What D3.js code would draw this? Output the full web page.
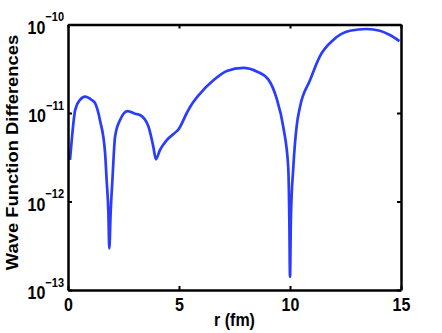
<!DOCTYPE html>
<html>
<head>
<meta charset="utf-8">
<script src="https://cdn.jsdelivr.net/npm/d3@7"></script>
<style>
  body { margin: 0; background: #fff; }
  svg text { font-family: "Liberation Sans", Arial, Helvetica, sans-serif; font-weight: bold; fill: #000; }
</style>
</head>
<body>
<svg id="chart"></svg>
<script>
// r in fm, and difference values
const rValues = [0.09, 0.17, 0.32, 0.54, 0.77, 1.07, 1.22, 1.44, 1.67, 1.74, 1.82, 1.86, 1.92, 2.0,
  2.12, 2.34, 2.69, 3.02, 3.24, 3.62, 3.84, 3.96, 4.14, 4.44, 4.89, 4.97, 5.35, 5.5, 5.95,
  6.55, 7.15, 7.9, 8.5, 9.02, 9.4, 9.7, 9.92, 9.97, 10.0, 10.04, 10.15, 10.3, 10.45, 10.9,
  11.35, 11.95, 12.7, 13.45, 14.05, 14.5, 14.93];
const diffValues = [2.95e-12, 5.0e-12, 1.07e-11, 1.41e-11, 1.53e-11, 1.40e-11, 1.29e-11, 8.3e-12,
  3.55e-12, 1.74e-12, 7.4e-13, 2.95e-13, 7.4e-13, 1.74e-12,
  5.4e-12, 8.3e-12, 1.05e-11, 9.8e-12, 9.5e-12, 7.1e-12, 4.2e-12, 3.0e-12, 3.8e-12, 4.9e-12,
  6.2e-12, 6.5e-12, 1.0e-11, 1.17e-11, 1.66e-11,
  2.34e-11, 2.99e-11, 3.24e-11, 2.95e-11, 2.4e-11, 1.45e-11, 6.9e-12, 2.45e-12, 6.3e-13, 1.41e-13, 6.3e-13,
  2.45e-12, 7.1e-12, 1.17e-11, 2.34e-11,
  4.4e-11, 6.7e-11, 8.5e-11, 8.9e-11, 8.5e-11, 7.6e-11, 6.5e-11];

const xTicks = [0, 5, 10, 15];
const yTicks = [1e-13, 1e-12, 1e-11, 1e-10];
const yTickExp = ['\u221213', '\u221212', '\u221211', '\u221210'];

const width = 442, height = 333;
const box = {left: 68, right: 401, top: 24.5, bottom: 290};
const sy = 1.15; // text looks stretched vertically

const svg = d3.select('#chart').attr('width', width).attr('height', height);

const x = d3.scaleLinear().domain([0, 15]).range([box.left, box.right]);
const y = d3.scaleLog().domain([1e-13, 1e-10]).range([box.bottom, box.top]);

const data = rValues.map((r, i) => ({r: r, v: diffValues[i]}));

// curve first, axes box on top
svg.append('path')
  .datum(data)
  .attr('fill', 'none')
  .attr('stroke', '#2a3cff')
  .attr('stroke-width', 2.7)
  .attr('stroke-linejoin', 'round')
  .attr('d', d3.line()
    .curve(d3.curveMonotoneX)
    .x((d) => x(d.r))
    .y((d) => y(d.v)));

function styleAxis(g) {
  g.select('.domain').attr('stroke', '#000').attr('stroke-width', 2.5);
  g.selectAll('.tick line').attr('stroke', '#000').attr('stroke-width', 2);
}

// bottom
const xAxis = svg.append('g')
  .attr('transform', `translate(0,${box.bottom})`)
  .call(d3.axisBottom(x).tickValues(xTicks).tickSizeInner(-4).tickSizeOuter(0).tickFormat(d3.format('d')))
  .call(styleAxis);
xAxis.selectAll('.tick text')
  .attr('y', null).attr('dy', null)
  .attr('font-size', 16)
  .attr('transform', `translate(0,21) scale(1,${sy})`);

// top
svg.append('g')
  .attr('transform', `translate(0,${box.top})`)
  .call(d3.axisTop(x).tickValues(xTicks).tickSizeInner(-4).tickSizeOuter(0).tickFormat(''))
  .call(styleAxis);

// left
const yAxis = svg.append('g')
  .attr('transform', `translate(${box.left},0)`)
  .call(d3.axisLeft(y).tickValues(yTicks).tickSizeInner(-4).tickSizeOuter(0).tickFormat(''))
  .call(styleAxis);
yAxis.selectAll('.tick').each(function(d, i) {
  const t = d3.select(this).append('text')
    .attr('text-anchor', 'end')
    .attr('transform', `translate(-4,8.5) scale(1,${sy})`);
  t.append('tspan').attr('font-size', 16).text('10');
  t.append('tspan').attr('font-size', 11).attr('dy', -10.5).text(yTickExp[i]);
});

// right
svg.append('g')
  .attr('transform', `translate(${box.right},0)`)
  .call(d3.axisRight(y).tickValues(yTicks).tickSizeInner(-4).tickSizeOuter(0).tickFormat(''))
  .call(styleAxis);

// axis labels
svg.append('text')
  .attr('text-anchor', 'middle')
  .attr('font-size', 16)
  .attr('transform', `translate(${(box.left + box.right) / 2},326) scale(1,${sy})`)
  .text('r (fm)');

svg.append('text')
  .attr('text-anchor', 'middle')
  .attr('font-size', 16)
  .attr('transform', `translate(18,152.5) scale(1,${sy}) rotate(-90)`)
  .text('Wave Function Differences');
</script>
</body>
</html>
